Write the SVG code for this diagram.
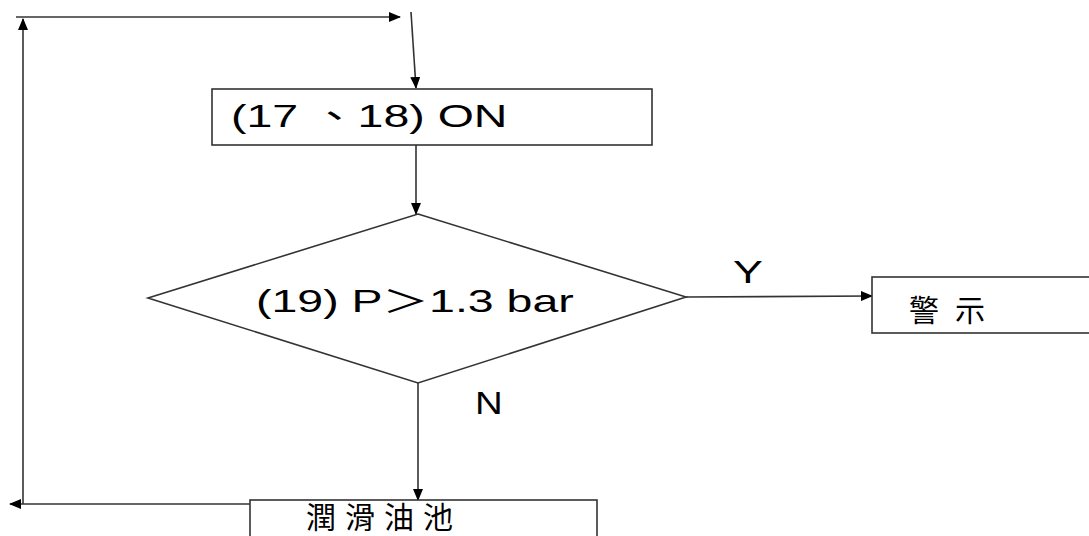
<svg xmlns="http://www.w3.org/2000/svg" width="1089" height="536" viewBox="0 0 1089 536">
<defs>
<marker id="ah" markerWidth="12" markerHeight="10" refX="11" refY="5" orient="auto" markerUnits="userSpaceOnUse">
<path d="M0,0 L12,5 L0,10 Z" fill="#000"/>
</marker>
<style>
.box{fill:#fff;stroke:#333;stroke-width:1.6}
.ln{fill:none;stroke:#333;stroke-width:1.6}
.t{font-family:"Liberation Sans",Arial,"Noto Sans CJK TC",sans-serif;fill:#000}
.c{font-family:"Noto Sans CJK TC","Noto Sans CJK SC",sans-serif;fill:#000}
</style>
</defs>
<rect width="1089" height="536" fill="#fff"/>
<g id="connectors">
<line class="ln" x1="16" y1="17" x2="400" y2="17" marker-end="url(#ah)"/>
<line class="ln" x1="411" y1="12" x2="416" y2="88" marker-end="url(#ah)"/>
<line class="ln" x1="416" y1="145" x2="416" y2="214" marker-end="url(#ah)"/>
<line class="ln" x1="686" y1="297" x2="872" y2="296" marker-end="url(#ah)"/>
<line class="ln" x1="418" y1="383" x2="418" y2="500" marker-end="url(#ah)"/>
<line class="ln" x1="250" y1="504" x2="10" y2="504" marker-end="url(#ah)"/>
<line class="ln" x1="23" y1="504" x2="23" y2="19" marker-end="url(#ah)"/>
<text class="t" font-size="32" transform="translate(733,283) scale(1.4,1)">Y</text>
<text class="t" font-size="32" transform="translate(475,414) scale(1.2,1)">N</text>
</g>
<g id="n1">
<rect class="box" x="212" y="89" width="440" height="56"/>
<text class="t" font-size="31" transform="translate(231,127) scale(1.5,1)">(17 、18) ON</text>
</g>
<g id="n2">
<polygon class="box" points="418,214 686,297 418,383 148,298"/>
<text class="t" font-size="31" transform="translate(256,312) scale(1.5,1)">(19) P＞1.3 bar</text>
</g>
<g id="n3">
<rect class="box" x="872" y="277" width="230" height="56"/>
<text class="c" x="909" y="321" font-size="30" letter-spacing="16">警示</text>
</g>
<g id="n4">
<rect class="box" x="250" y="500" width="347" height="50"/>
<text class="c" x="306" y="528" font-size="30" letter-spacing="9">潤滑油池</text>
</g>
</svg>
